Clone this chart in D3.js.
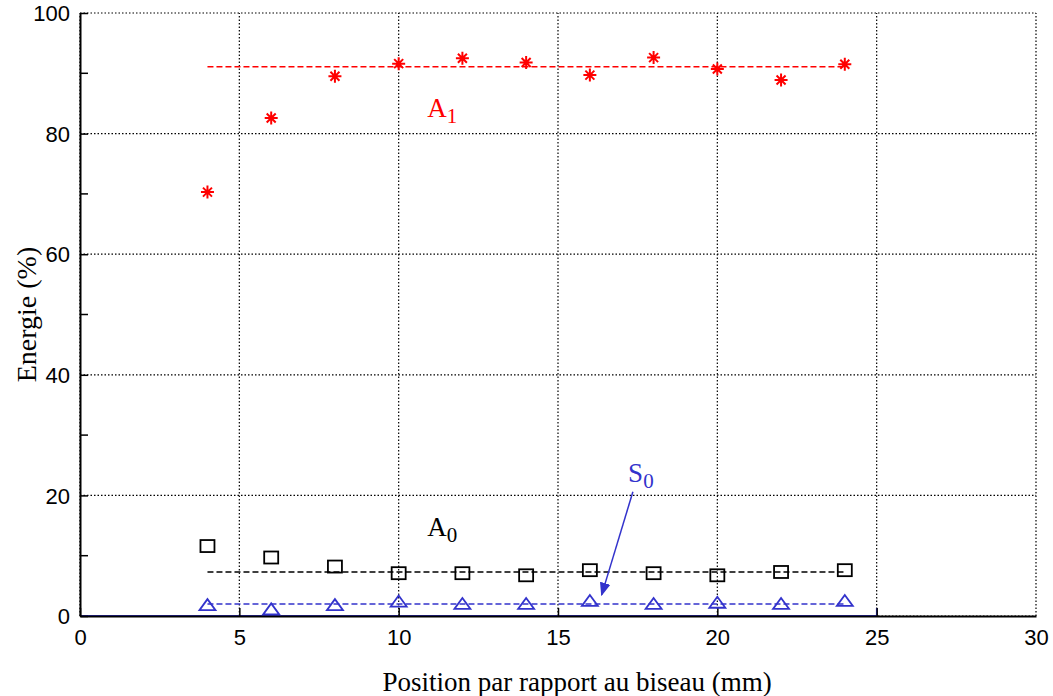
<!DOCTYPE html>
<html><head><meta charset="utf-8">
<script src="https://cdn.jsdelivr.net/npm/d3@7"></script>
<style>body{margin:0;background:#fff}</style>
</head><body>
<svg id="c" width="1053" height="696"></svg>
<script>
const positions = [4,6,8,10,12,14,16,18,20,22,24];
const a1Values = [70.3,82.6,89.5,91.6,92.5,91.8,89.7,92.6,90.7,88.9,91.5];
const a0Values = [11.6,9.7,8.2,7.1,7.1,6.75,7.6,7.1,6.75,7.3,7.6];
const s0Values = [1.8,1.1,1.8,2.4,2.0,2.0,2.5,2.0,2.2,2.0,2.5];
const a1Mean = 91.1, a0Mean = 7.3, s0Mean = 2.0;
const meanRange = [4,24];
const xTicks = [0,5,10,15,20,25,30];
const yTicks = [0,20,40,60,80,100];
const yMinorTicks = [10,30,50,70,90];

const svg = d3.select("#c");
const x = d3.scaleLinear().domain([0,30]).range([80,1036]);
const y = d3.scaleLinear().domain([0,100]).range([616,13]);
const red = "#ff0000", blue = "#3333cc", black = "#000";

// grid
const g = svg.append("g");
xTicks.forEach(t => g.append("line").attr("x1",x(t)).attr("x2",x(t)).attr("y1",y(0)).attr("y2",y(100))
  .attr("stroke","#000").attr("stroke-width",1.2).attr("stroke-dasharray","1.5,2"));
yTicks.forEach(t => g.append("line").attr("x1",x(0)).attr("x2",x(30)).attr("y1",y(t)).attr("y2",y(t))
  .attr("stroke","#000").attr("stroke-width",1.2).attr("stroke-dasharray","1.5,2"));

// blue baseline artefact
svg.append("line").attr("x1",x(0)).attr("x2",x(25)).attr("y1",y(0)).attr("y2",y(0)).attr("stroke",blue).attr("stroke-width",2);
svg.append("line").attr("x1",x(25)).attr("x2",x(25)).attr("y1",y(0)).attr("y2",y(0)-8).attr("stroke",blue).attr("stroke-width",1.5);

// axes
const xAxis = d3.axisBottom(x).tickValues(xTicks).tickSizeInner(-8).tickSizeOuter(0).tickPadding(13);
const gx = svg.append("g").attr("transform",`translate(0,${y(0)})`).call(xAxis);
const yAxis = d3.axisLeft(y).tickValues(yTicks).tickSizeInner(-8).tickSizeOuter(0).tickPadding(10);
const gy = svg.append("g").attr("transform",`translate(${x(0)},0)`).call(yAxis);
[gx,gy].forEach(a=>{
  a.select(".domain").attr("stroke","#000").attr("stroke-width",2);
  a.selectAll(".tick line").attr("stroke","#000").attr("stroke-width",1.5);
  a.selectAll("text").attr("font-family","Liberation Sans, Arial, sans-serif").attr("font-size",22).attr("fill","#000");
});
gy.selectAll(".tick text").attr("dy","0.35em");
gx.select(".tick:last-of-type line").remove();
// minor y ticks
gy.selectAll(".minor").data(yMinorTicks).enter().append("line")
  .attr("x1",0).attr("x2",8).attr("y1",d=>y(d)).attr("y2",d=>y(d)).attr("stroke","#000").attr("stroke-width",1.5);

// mean dashed lines
[[a1Mean,red],[a0Mean,black],[s0Mean,blue]].forEach(([m,c]) =>
  svg.append("line").attr("x1",x(meanRange[0])).attr("x2",x(meanRange[1])).attr("y1",y(m)).attr("y2",y(m))
    .attr("stroke",c).attr("stroke-width",1.5).attr("stroke-dasharray","6,3"));

// stars
const starPath = "M-6.5,0H6.5M0,-6.5V6.5M-4.5,-4.5L4.5,4.5M-4.5,4.5L4.5,-4.5";
svg.append("g").selectAll("path").data(positions).enter().append("path")
  .attr("transform",(d,i)=>`translate(${x(d)},${y(a1Values[i])})`).attr("d",starPath)
  .attr("stroke",red).attr("stroke-width",2).attr("fill","none");
// squares
svg.append("g").selectAll("rect").data(positions).enter().append("rect")
  .attr("x",d=>x(d)-7).attr("y",(d,i)=>y(a0Values[i])-6).attr("width",14).attr("height",12)
  .attr("stroke",black).attr("stroke-width",1.8).attr("fill","none");
// triangles
svg.append("g").selectAll("path").data(positions).enter().append("path")
  .attr("transform",(d,i)=>`translate(${x(d)},${y(s0Values[i])})`).attr("d","M0,-6L8,5H-8Z")
  .attr("stroke",blue).attr("stroke-width",1.8).attr("fill","none");

// labels
function lab(txt,sub,px,py,col){
  const t = svg.append("text").attr("x",x(px)).attr("y",y(py)).attr("fill",col)
    .attr("font-family","Liberation Serif, Times New Roman, serif").attr("font-size",27);
  t.append("tspan").text(txt);
  t.append("tspan").text(sub).attr("font-size",21).attr("dy",6);
}
lab("A","1",10.9,82.7,red);
lab("A","0",10.9,13.3,black);
lab("S","0",17.2,22.3,blue);

// arrow
svg.append("defs").append("marker").attr("id","ah").attr("viewBox","0 0 10 10").attr("refX",9).attr("refY",5)
  .attr("markerWidth",9).attr("markerHeight",9).attr("orient","auto")
  .append("path").attr("d","M0,1L10,5L0,9Z").attr("fill",blue);
svg.append("line").attr("x1",x(17.35)).attr("y1",y(20.6)).attr("x2",x(16.37)).attr("y2",y(3.5))
  .attr("stroke",blue).attr("stroke-width",1.5).attr("marker-end","url(#ah)");

// axis titles
svg.append("text").attr("x",x(15.6)).attr("y",691).attr("text-anchor","middle")
  .attr("font-family","Liberation Serif, Times New Roman, serif").attr("font-size",27).text("Position par rapport au biseau (mm)");
svg.append("text").attr("transform",`translate(36,${y(50)}) rotate(-90)`).attr("text-anchor","middle")
  .attr("font-family","Liberation Serif, Times New Roman, serif").attr("font-size",28).text("Energie (%)");
</script>
</body></html>
